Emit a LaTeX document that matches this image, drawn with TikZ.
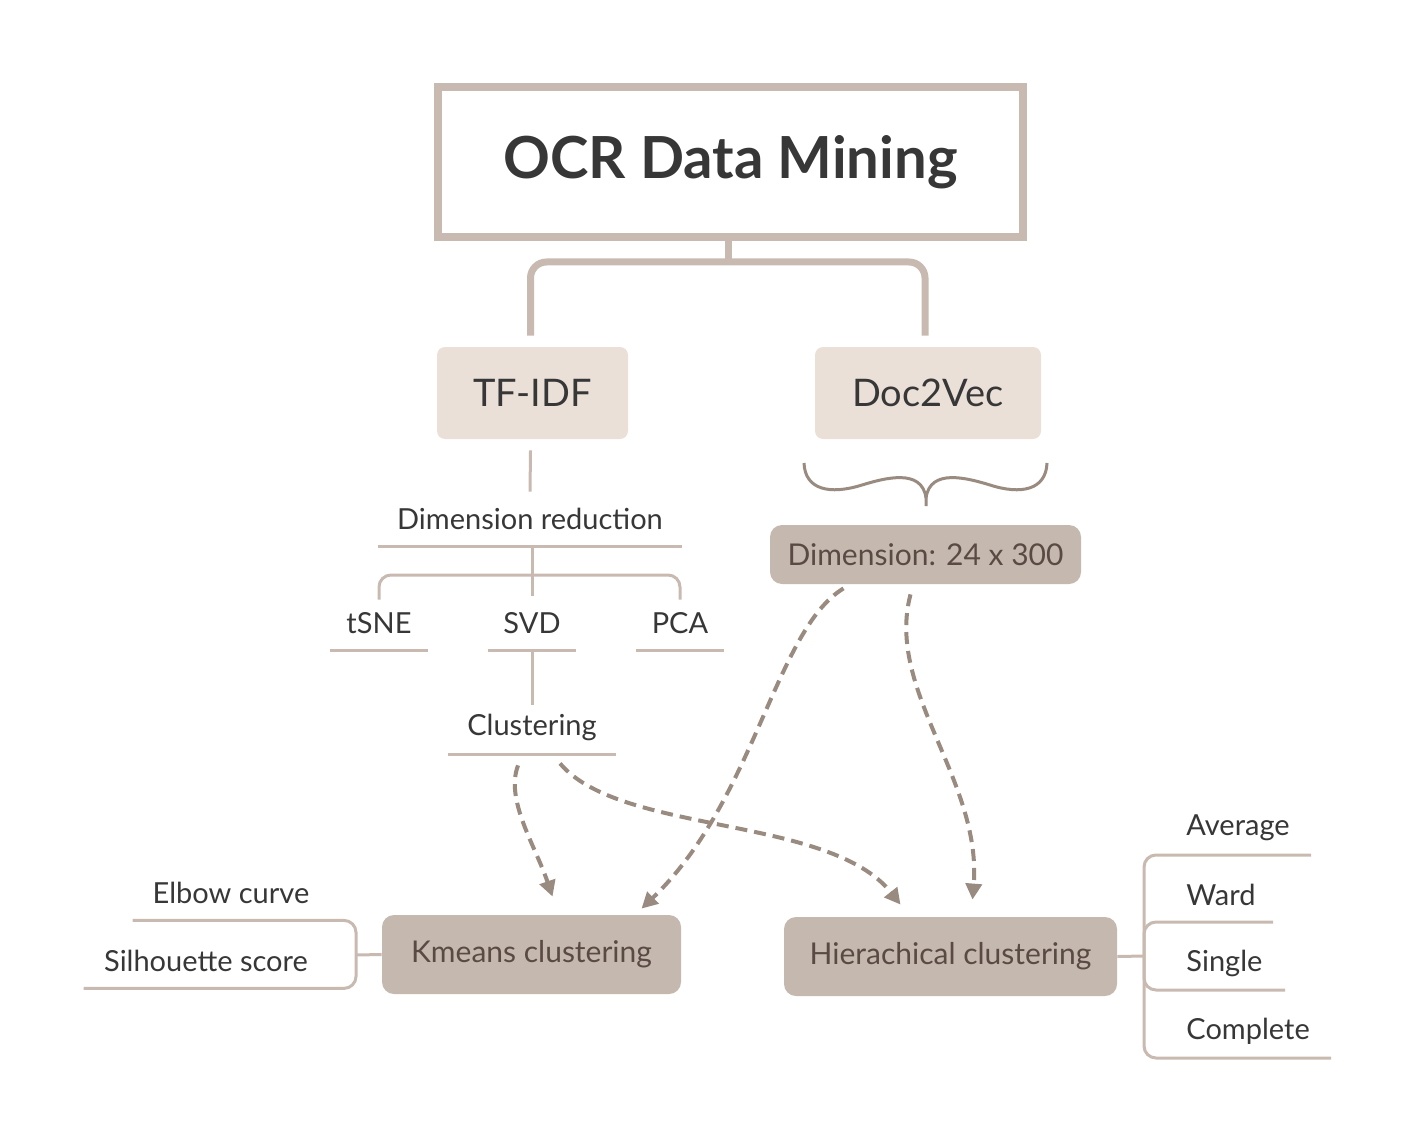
\documentclass[tikz,border=0pt]{standalone}
\usepackage{fontspec}
\setmainfont{Lato}
\usetikzlibrary{arrows.meta, positioning, calc}
\definecolor{ocr_line}{RGB}{200, 186, 176}
\definecolor{ocr_light}{RGB}{235, 224, 216}
\definecolor{ocr_mid}{RGB}{197, 184, 174}
\definecolor{ocr_arrow}{RGB}{154, 139, 128}
\definecolor{ocr_text}{RGB}{55, 55, 55}
\definecolor{ocr_brown}{RGB}{90, 74, 68}

\begin{document}
\begin{tikzpicture}[
        x=0.5pt, y=-0.5pt,
        every node/.style={inner sep=0pt, text=ocr_text},
        title/.style={draw=ocr_line, line width=4pt, fill=white, minimum width=292.5pt, minimum height=75pt, font=\fontsize{29}{33}\selectfont\bfseries},
        method/.style={fill=ocr_light, rounded corners=4pt, minimum height=46pt, font=\fontsize{19}{22}\selectfont},
        result/.style={fill=ocr_mid, rounded corners=6pt, text=ocr_brown, font=\fontsize{15}{18}\selectfont},
        leaf/.style={minimum height=27pt, font=\fontsize{14.5}{17}\selectfont},
        tree/.style={draw=ocr_line, line width=1.5pt, rounded corners=6pt},
        trunk/.style={draw=ocr_line, line width=3.5pt, rounded corners=8pt},
        link/.style={draw=ocr_arrow, line width=2pt, dash pattern=on 6pt off 3.5pt, -{Triangle[length=8pt, width=8pt]}},
      ]
        \useasboundingbox (0,0) rectangle (1416,1144);

        % top
        \node[title]  (ocr)     at (730.5,162) {OCR Data Mining};
        \node[method, minimum width=95.5pt] (tfidf)   at (532.5,393) {TF-IDF};
        \node[method, minimum width=113pt]  (doc2vec) at (928,393)   {Doc2Vec};
        \coordinate (split) at (728,262);
        \draw[trunk, rounded corners=0] (split |- ocr.south) -- (split);
        \draw[trunk] ($(tfidf.north)+(-2,-11)$) |- (split) -| ($(doc2vec.north)+(-3,-11)$);

        % TF-IDF branch
        \node[leaf, minimum width=152pt] (dimred) at (530,519) {Dimension reduction};
        \node[leaf, minimum width=49pt]  (tsne)   at (379,623) {tSNE};
        \node[leaf, minimum width=44pt]  (svd)    at (532,623) {SVD};
        \node[leaf, minimum width=44pt]  (pca)    at (680,623) {PCA};
        \node[leaf, minimum width=84pt]  (clust)  at (532,727) {Clustering};
        \coordinate (split2) at (532,575);
        \draw[tree] ($(tfidf.south)+(-2,11)$) -- (dimred.north);
        \draw[tree] (dimred.south west) -- (dimred.south east);
        \draw[tree] (dimred.south -| svd) -- (svd.north);
        \draw[tree] ($(tsne.north)+(0,4)$) |- (split2) -| ($(pca.north)+(0,4)$);
        \draw[tree] (tsne.south west) -- (tsne.south east);
        \draw[tree] (svd.south west) -- (svd.south east);
        \draw[tree] (pca.south west) -- (pca.south east);
        \draw[tree] (svd.south) -- ($(clust.north)+(0,5)$);
        \draw[tree] (clust.south west) -- (clust.south east);

        % Doc2Vec branch
        \node[result, minimum width=155.5pt, minimum height=29.5pt] (dim) at (925.5,554.5) {Dimension: 24 x 300};
        \draw[ocr_arrow, line width=1.5pt]
          (804,463) .. controls (805,490) and (830,495) .. (862,485)
          .. controls (885,478) and (922,468) .. (926,498) -- (926,506);
        \draw[ocr_arrow, line width=1.5pt]
          (1047,463) .. controls (1046,490) and (1021,495) .. (990,485)
          .. controls (967,478) and (930,468) .. (926,498);

        % clustering
        \node[result, minimum width=149.5pt, minimum height=39.5pt] (kmeans) at (531.5,954.5) {Kmeans clustering};
        \node[result, minimum width=166.5pt, minimum height=39.5pt] (hier)   at (950.5,956.5) {Hierachical clustering};

        \draw[link] ($(clust.south)+(-14,11)$) .. controls (505,800) and (535,845) .. ($(kmeans.north)+(21,-18)$);
        \draw[link] ($(clust.south)+(28,9)$) .. controls (620,835) and (830,815) .. ($(hier.north)+(-50,-12)$);
        \draw[link] ($(dim.south)+(-82,4)$) .. controls (775,630) and (755,800) .. ($(kmeans.north)+(110,-6)$);
        \draw[link] ($(dim.south)+(-15,10)$) .. controls (885,690) and (982,780) .. ($(hier.north)+(22,-17)$);

        % Kmeans leaves
        \node[leaf, minimum width=98pt]  (elbow) at (231,893) {Elbow curve};
        \node[leaf, minimum width=122pt] (sil)   at (206,961) {Silhouette score};
        \coordinate (kbrace) at (356,955);
        \draw[tree] (elbow.south west) -| (kbrace) |- (sil.south west);
        \draw[tree] (kbrace) -- (kmeans.west);

        % Hierachical leaves
        \node[leaf, anchor=west] (avg)    at (1186,828)  {Average};
        \node[leaf, anchor=west] (ward)   at (1186,895)  {Ward};
        \node[leaf, anchor=west] (single) at (1186,963)  {Single};
        \node[leaf, anchor=west] (comp)   at (1186,1031) {Complete};
        \coordinate (hbrace) at (1144,956);
        \coordinate (avg-end)    at (1311,855);
        \coordinate (ward-end)   at (1273,922);
        \coordinate (single-end) at (1285,990);
        \coordinate (comp-end)   at (1331,1058);
        \draw[tree] (hier.east) -- (hbrace);
        \draw[tree] (avg-end) -| (hbrace) |- (comp-end);
        \draw[tree] (ward-end) -| (hbrace);
        \draw[tree] (single-end) -| (hbrace);
      \end{tikzpicture}
\end{document}
